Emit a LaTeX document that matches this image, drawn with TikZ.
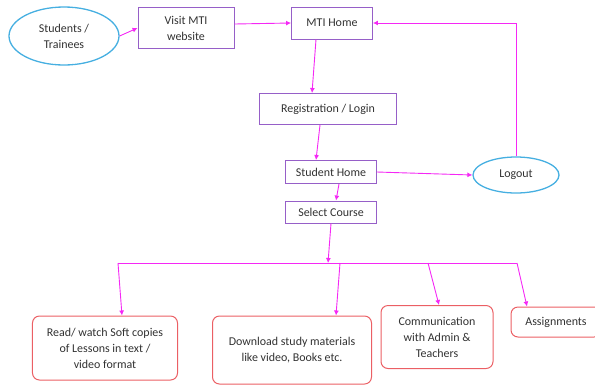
\documentclass[tikz,border=0pt]{standalone}
\usepackage{fontspec}
\setmainfont{Carlito}
\usetikzlibrary{shapes.geometric,arrows.meta}
\definecolor{boxpurple}{RGB}{150,95,200}
\definecolor{linkpink}{RGB}{245,40,245}
\definecolor{ovalblue}{RGB}{70,175,225}
\definecolor{optred}{RGB}{235,95,100}
\definecolor{txtgray}{RGB}{50,50,50}

\begin{document}
\begin{tikzpicture}[x=1bp,y=-1bp,
  every node/.style={text=txtgray,font=\fontsize{12}{16}\selectfont,align=center},
  pagebox/.style={draw=boxpurple,line width=0.9bp,inner sep=1bp},
  actor/.style={ellipse,draw=ovalblue,line width=1.3bp,inner sep=0bp},
  option/.style={draw=optred,line width=1bp,rounded corners=7bp,inner sep=1bp},
  link/.style={draw=linkpink,line width=0.9bp,-{Latex[length=5bp,width=5bp]}}]
			\useasboundingbox (0,0) rectangle (595,385);
			\node[actor,minimum width=110bp,minimum height=58bp] (stud) at (64,36) {Students /\\ Trainees};
			\node[pagebox,minimum width=96bp,minimum height=41bp] (visit) at (186,28) {Visit MTI\\ website};
			\node[pagebox,minimum width=81bp,minimum height=32bp] (mti) at (332,23) {MTI Home};
			\node[pagebox,minimum width=137bp,minimum height=31bp] (reg) at (328,109) {Registration / Login};
			\node[pagebox,minimum width=91bp,minimum height=23bp] (shome) at (331,172) {Student Home};
			\node[pagebox,minimum width=91bp,minimum height=22bp] (sel) at (331,212) {Select Course};
			\node[actor,minimum width=86bp,minimum height=36bp] (logout) at (516,175) {Logout};
			\node[option,minimum width=145bp,minimum height=64bp] (read) at (105,348) {Read/ watch Soft copies\\ of Lessons in text /\\ video format};
			\node[option,minimum width=159bp,minimum height=68bp] (dl) at (292,350) {Download study materials\\ like video, Books etc.};
			\node[option,minimum width=112bp,minimum height=63bp] (comm) at (437,337) {Communication\\ with Admin \&\\ Teachers};
			\node[option,minimum width=90bp,minimum height=30bp] (asg) at (556,322) {Assignments};
			\coordinate (barL) at (118,263);
			\coordinate (barM) at (328,263);
			\coordinate (barB) at (340,263);
			\coordinate (barC) at (428,263);
			\coordinate (barR) at (517,263);
			\draw[link] (stud.east) -- (visit.west);
			\draw[link] ([yshift=4bp]visit.east) -- (mti.west);
			\draw[link] ([xshift=-16bp]mti.south) -- ([xshift=-16bp]reg.north);
			\draw[link] ([xshift=-8bp]reg.south) -- ([xshift=-15bp]shome.north);
			\draw[link] (shome.east) -- (logout.west);
			\draw[link] (logout.north) |- (mti.east);
			\draw[link] ([xshift=8bp]shome.south) -- ([xshift=5bp]sel.north);
			\draw[link] (sel.south) -- (barM);
			\draw[linkpink,line width=0.9bp] (barL) -- (barR);
			\draw[link] (barL) -- ([xshift=17bp]read.north);
			\draw[link] (barB) -- ([xshift=44bp]dl.north);
			\draw[link] (barC) -- ([xshift=2bp]comm.north);
			\draw[link] (barR) -- ([xshift=-29bp]asg.north);
\end{tikzpicture}
\end{document}
